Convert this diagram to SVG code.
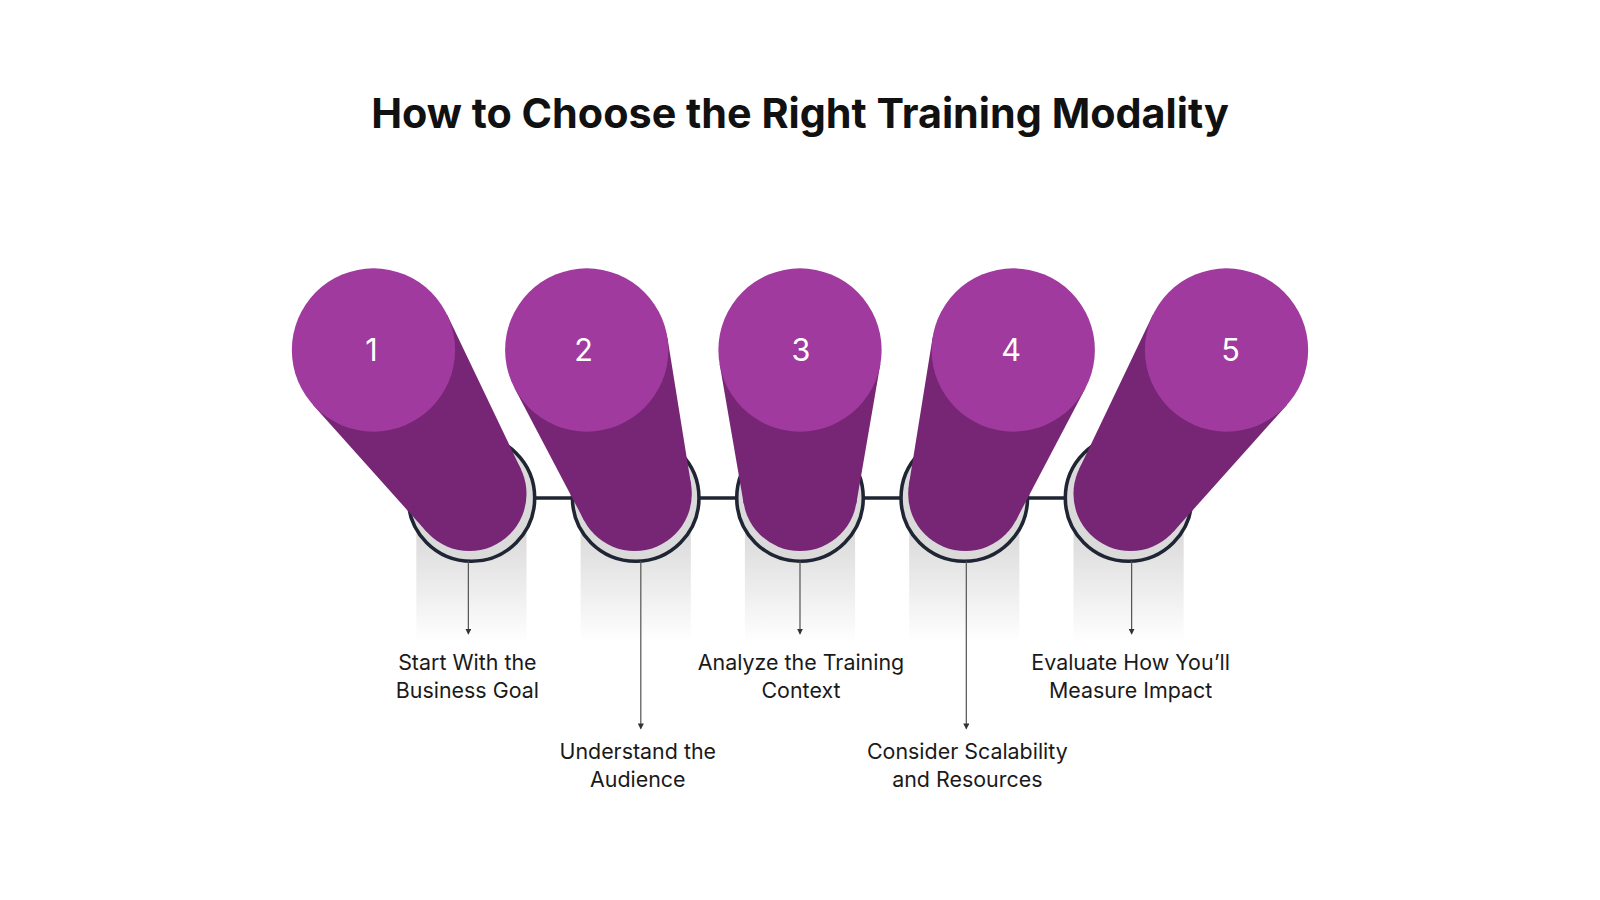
<svg xmlns="http://www.w3.org/2000/svg" width="1600" height="900" viewBox="0 0 1600 900">
<style>
.t{font-family:Inter,"Noto Sans",sans-serif;font-size:21px;fill:#1a1a1a;text-anchor:middle}
.n{font-family:Inter,"Noto Sans",sans-serif;font-size:30px;fill:#fff;text-anchor:middle}
.base{fill:#dadada;stroke:#1f2533;stroke-width:3.5}
.body{fill:#772676}
.top{fill:#a03a9e}
.sh{fill:url(#g)}
.ptr{stroke:#555;stroke-width:1.2;fill:none;marker-end:url(#ah)}
</style>
<defs>
<linearGradient id="g" x1="0" y1="0" x2="0" y2="1"><stop offset="0" stop-color="#cfcfcf"/><stop offset="1" stop-color="#fff"/></linearGradient>
<marker id="ah" markerWidth="6" markerHeight="6" refX="5" refY="3" orient="auto" markerUnits="userSpaceOnUse"><path d="M0,0L6,3L0,6z" fill="#333"/></marker>
</defs>
<rect width="1600" height="900" fill="#fff"/>
<g transform="scale(1.0204)">
<text x="784" y="125" style="font-family:Inter,'Noto Sans',sans-serif;font-size:40.5px;font-weight:700;fill:#111;text-anchor:middle">How to Choose the Right Training Modality</text>
<g id="connectors">
<line x1="462" y1="488" x2="1106" y2="488" stroke="#1f2533" stroke-width="3.5"/>
</g>
<g id="shades">
<rect class="sh" x="408" y="488" width="108" height="142"/>
<rect class="sh" x="569" y="488" width="108" height="142"/>
<rect class="sh" x="730" y="488" width="108" height="142"/>
<rect class="sh" x="891" y="488" width="108" height="142"/>
<rect class="sh" x="1052" y="488" width="108" height="142"/>
</g>
<g id="node1">
<circle class="base" cx="462" cy="488" r="62"/>
<polygon class="body" points="306.4,396.4 438.2,308.4 510.5,459.8 418.3,521.4"/>
<circle class="body" cx="460" cy="484" r="56"/>
<circle class="top" cx="366" cy="343" r="80"/>
<text class="n" x="364" y="354">1</text>
<line class="ptr" x1="459" y1="550" x2="459" y2="621"/>
<text class="t" x="458" y="657">Start With the</text>
<text class="t" x="458" y="684">Business Goal</text>
</g>
<g id="node2">
<circle class="base" cx="623" cy="488" r="62"/>
<polygon class="body" points="504.2,380.2 654,330.4 677.3,475.2 572.4,510"/>
<circle class="body" cx="622" cy="484" r="56"/>
<circle class="top" cx="575" cy="343" r="80"/>
<text class="n" x="572" y="354">2</text>
<line class="ptr" x1="628" y1="550" x2="628" y2="714"/>
<text class="t" x="625" y="744">Understand the</text>
<text class="t" x="625" y="771">Audience</text>
</g>
<g id="node3">
<circle class="base" cx="784" cy="488" r="62"/>
<polygon class="body" points="705.2,356.6 862.8,356.6 839.2,493.5 728.8,493.5"/>
<circle class="body" cx="784" cy="484" r="56"/>
<circle class="top" cx="784" cy="343" r="80"/>
<text class="n" x="785" y="354">3</text>
<line class="ptr" x1="784" y1="550" x2="784" y2="621"/>
<text class="t" x="785" y="657">Analyze the Training</text>
<text class="t" x="785" y="684">Context</text>
</g>
<g id="node4">
<circle class="base" cx="945" cy="488" r="62"/>
<polygon class="body" points="914,330.4 1063.8,380.2 995.6,510 890.7,475.2"/>
<circle class="body" cx="946" cy="484" r="56"/>
<circle class="top" cx="993" cy="343" r="80"/>
<text class="n" x="991" y="354">4</text>
<line class="ptr" x1="947" y1="550" x2="947" y2="714"/>
<text class="t" x="948" y="744">Consider Scalability</text>
<text class="t" x="948" y="771">and Resources</text>
</g>
<g id="node5">
<circle class="base" cx="1106" cy="488" r="62"/>
<polygon class="body" points="1129.8,308.4 1261.6,396.4 1149.7,521.4 1057.5,459.8"/>
<circle class="body" cx="1108" cy="484" r="56"/>
<circle class="top" cx="1202" cy="343" r="80"/>
<text class="n" x="1206" y="354">5</text>
<line class="ptr" x1="1109" y1="550" x2="1109" y2="621"/>
<text class="t" x="1108" y="657">Evaluate How You’ll</text>
<text class="t" x="1108" y="684">Measure Impact</text>
</g>
</g>
</svg>
